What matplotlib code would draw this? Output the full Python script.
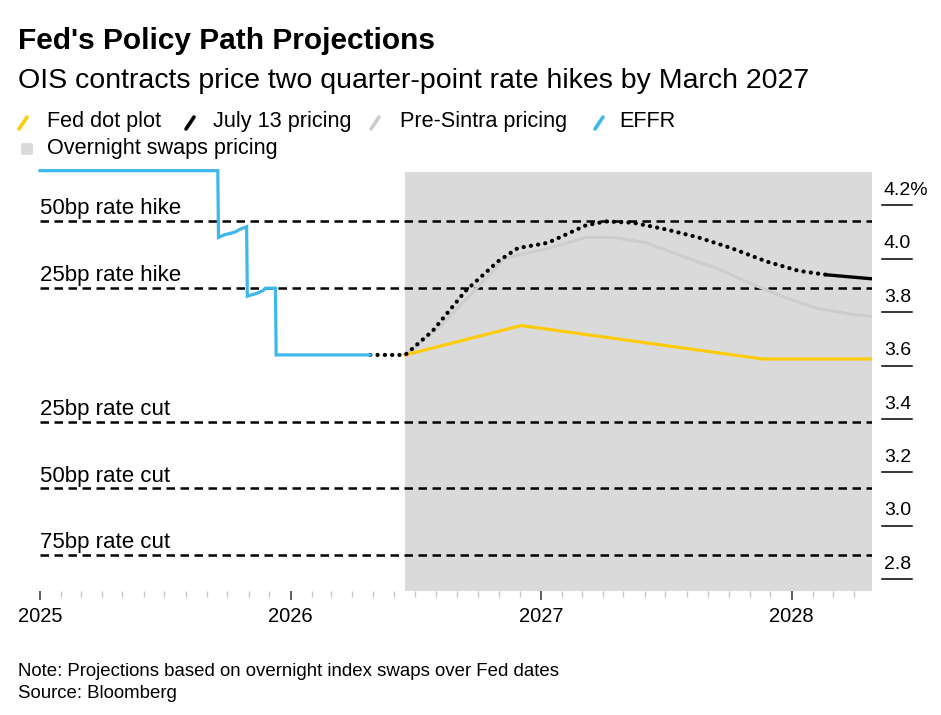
import numpy as np
import pandas as pd
import matplotlib
matplotlib.use("Agg")
import matplotlib.pyplot as plt
import matplotlib.dates as mdates
from matplotlib.lines import Line2D
from matplotlib.patches import FancyBboxPatch

plt.rcParams['font.family'] = ['Liberation Sans', 'DejaVu Sans']

# ---- data ----
effr_dates = ['2025-01-01', '2025-09-17', '2025-09-18', '2025-09-27', '2025-10-12',
              '2025-10-19', '2025-10-29', '2025-10-30', '2025-11-12', '2025-11-21',
              '2025-11-26', '2025-12-10', '2025-12-11', '2026-04-27']
effr_vals = [4.33, 4.33, 4.08, 4.09, 4.10, 4.11, 4.12, 3.86, 3.87, 3.88,
             3.89, 3.89, 3.64, 3.64]

july_dates = ['2026-04-27', '2026-06-17', '2026-07-27', '2026-09-13', '2026-10-30',
              '2026-11-28', '2027-01-11', '2027-03-07', '2027-04-05', '2027-05-15',
              '2027-07-02', '2027-08-18', '2027-10-05', '2027-11-25', '2028-01-11',
              '2028-02-21']
july_vals = [3.64, 3.64, 3.73, 3.88, 3.99, 4.04, 4.06, 4.125, 4.14, 4.135,
             4.11, 4.08, 4.04, 3.99, 3.955, 3.94]
july_tail_dates = ['2028-02-21', '2028-04-27']
july_tail_vals = [3.94, 3.925]

pre_dates = ['2026-06-17', '2026-08-08', '2026-10-03', '2026-11-08', '2026-11-30',
             '2027-01-13', '2027-03-07', '2027-04-15', '2027-06-03', '2027-07-25',
             '2027-09-13', '2027-10-31', '2027-12-17', '2028-02-06', '2028-04-03',
             '2028-04-27']
pre_vals = [3.64, 3.75, 3.90, 4.00, 4.015, 4.04, 4.08, 4.08, 4.06, 4.01,
            3.965, 3.91, 3.86, 3.815, 3.79, 3.785]

dot_dates = ['2026-06-17', '2026-12-03', '2027-11-19', '2028-04-27']
dot_vals = [3.64, 3.75, 3.625, 3.625]

level_vals = [4.14, 3.89, 3.39, 3.14, 2.89]
level_labels = ['50bp rate hike', '25bp rate hike', '25bp rate cut',
                '50bp rate cut', '75bp rate cut']

ytick_vals = [4.2, 4.0, 3.8, 3.6, 3.4, 3.2, 3.0, 2.8]
ytick_labels = ['4.2%', '4.0', '3.8', '3.6', '3.4', '3.2', '3.0', '2.8']

swaps_start = '2026-06-17'
x_start, x_end = '2025-01-01', '2028-04-27'

# ---- colours ----
c_yellow = '#fccc0a'
c_black = '#000000'
c_grey = '#cdcdcd'
c_blue = '#3cb8ec'
c_shade = '#dadada'

W, H = 941, 715
fig = plt.figure(figsize=(W / 100, H / 100), dpi=100)
ax = fig.add_axes([40 / W, 1 - 591 / H, 832 / W, 419 / H])

td = lambda d: pd.to_datetime(d)

ax.axvspan(td(swaps_start), td(x_end), color=c_shade, lw=0, zorder=0)

for v, lab in zip(level_vals, level_labels):
    ax.plot([td(x_start), td(x_end)], [v, v], color='black', lw=1.8,
            dashes=(3.4, 2.2), zorder=2)
    ax.annotate(lab, xy=(0, v), xycoords=ax.get_yaxis_transform(),
                xytext=(0, 5), textcoords='offset points',
                ha='left', va='baseline', fontsize=16, color='black')

ax.plot(td(pre_dates), pre_vals, color=c_grey, lw=2.2, zorder=3,
        solid_capstyle='round', solid_joinstyle='round')
ax.plot(td(dot_dates), dot_vals, color=c_yellow, lw=2.3, zorder=4,
        solid_joinstyle='round')
ax.plot(td(july_dates), july_vals, color=c_black, lw=3.0,
        dashes=(0.05, 1.7), dash_capstyle='round', zorder=5)
ax.plot(td(july_tail_dates), july_tail_vals, color=c_black, lw=2.4, zorder=5,
        solid_capstyle='round')
ax.plot(td(effr_dates), effr_vals, color=c_blue, lw=2.3, zorder=6,
        solid_joinstyle='miter', clip_on=False)

ax.set_xlim(td(x_start), td(x_end))
ax.set_ylim(2.756, 4.325)

for s in ax.spines.values():
    s.set_visible(False)
ax.set_yticks([])
ax.xaxis.set_major_locator(mdates.YearLocator())
ax.xaxis.set_major_formatter(mdates.DateFormatter('%Y'))
ax.xaxis.set_minor_locator(mdates.MonthLocator())
ax.tick_params(axis='x', which='major', length=6.5, width=1.1, color='#333333',
               labelsize=14.5, pad=5, direction='out')
ax.tick_params(axis='x', which='minor', length=4.5, width=1, color='#c8c8c8',
               direction='out')

# right-hand value labels with underlines
ytr = ax.get_yaxis_transform()
for v, lab in zip(ytick_vals, ytick_labels):
    ax.plot([1 + 10 / 832, 1 + 40 / 832], [v, v], transform=ytr, color='black',
            lw=1.1, clip_on=False)
    ax.annotate(lab, xy=(1, v), xycoords=ytr, xytext=(8.5, 7.5),
                textcoords='offset points', ha='left', va='baseline',
                fontsize=14, annotation_clip=False)

# titles
fig.text(18 / W, 1 - 49 / H, "Fed's Policy Path Projections", fontsize=21.5,
         fontweight='bold', ha='left', va='baseline')
fig.text(18 / W, 1 - 88 / H,
         'OIS contracts price two quarter-point rate hikes by March 2027',
         fontsize=20.5, ha='left', va='baseline')

# legend
leg_items = [(c_yellow, 19, 46.7, 'Fed dot plot'),
             (c_black, 186, 213, 'July 13 pricing'),
             (c_grey, 371, 400, 'Pre-Sintra pricing'),
             (c_blue, 595, 619, 'EFFR')]
for col, sx, tx, lab in leg_items:
    fig.add_artist(Line2D([sx / W, (sx + 8) / W], [1 - 129 / H, 1 - 117 / H],
                          color=col, lw=2.6, solid_capstyle='round',
                          transform=fig.transFigure))
    fig.text(tx / W, 1 - 127 / H, lab, fontsize=15.6, ha='left', va='baseline')
fig.add_artist(FancyBboxPatch((21 / W, 1 - 155 / H), 12 / W, 12 / H,
                              boxstyle='round,pad=0,rounding_size=0.003',
                              color=c_shade, lw=0, transform=fig.transFigure))
fig.text(46.7 / W, 1 - 154 / H, 'Overnight swaps pricing', fontsize=15.6,
         ha='left', va='baseline')

# footnotes
fig.text(18 / W, 1 - 676 / H,
         'Note: Projections based on overnight index swaps over Fed dates',
         fontsize=13.4, ha='left', va='baseline')
fig.text(18 / W, 1 - 698 / H, 'Source: Bloomberg', fontsize=13.4,
         ha='left', va='baseline')

fig.savefig('out.png', dpi=100, facecolor='white')
